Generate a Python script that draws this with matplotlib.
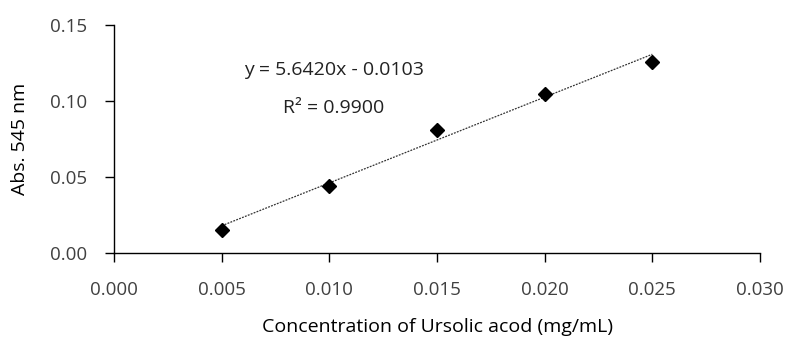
import numpy as np
import matplotlib
matplotlib.use('Agg')
import matplotlib.pyplot as plt

# Calibration data
conc = [0.005, 0.010, 0.015, 0.020, 0.025]
absorb = [0.0152, 0.0441, 0.0808, 0.1046, 0.1257]
slope = 5.6420
intercept = -0.0103
x_ticks = [0.000, 0.005, 0.010, 0.015, 0.020, 0.025, 0.030]
y_ticks = [0.00, 0.05, 0.10, 0.15]

plt.rcParams['font.family'] = ['Open Sans', 'DejaVu Sans']

fig = plt.figure(figsize=(7.87, 3.49), dpi=100)
ax = fig.add_axes([0.1449, 0.2751, 0.8208, 0.6533])

# Trendline
x_fit = np.array([conc[0], conc[-1]])
ax.plot(x_fit, slope * x_fit + intercept, color='#333333', lw=0.9, linestyle=(0, (1.5, 1)))

# Points
ax.plot(conc, absorb, linestyle='none', marker='D', markersize=7.5, color='black')

ax.set_xlim(0, 0.030)
ax.set_ylim(0, 0.15)
ax.set_xticks(x_ticks)
ax.set_xticklabels([f'{v:.3f}' for v in x_ticks])
ax.set_yticks(y_ticks)
ax.set_yticklabels([f'{v:.2f}' for v in y_ticks])

for s in ['top', 'right']:
    ax.spines[s].set_visible(False)
for s in ['left', 'bottom']:
    ax.spines[s].set_linewidth(1.0)
    ax.spines[s].set_color('black')

ax.tick_params(axis='both', direction='out', length=6.5, width=1.0, labelsize=13.5, colors='black')
ax.tick_params(axis='x', pad=14)
ax.tick_params(axis='y', pad=13)
for lab in ax.get_xticklabels() + ax.get_yticklabels():
    lab.set_color('#404040')

ax.set_xlabel('Concentration of Ursolic acod (mg/mL)', fontsize=14, labelpad=13)
ax.set_ylabel('Abs. 545 nm', fontsize=14, labelpad=15)

ax.text(0.01021, 0.1207, 'y = 5.6420x - 0.0103', fontsize=14, ha='center', va='center', color='#222222')
ax.text(0.01021, 0.0956, 'R² = 0.9900', fontsize=14, ha='center', va='center', color='#222222')

fig.savefig('out.png', dpi=100)
